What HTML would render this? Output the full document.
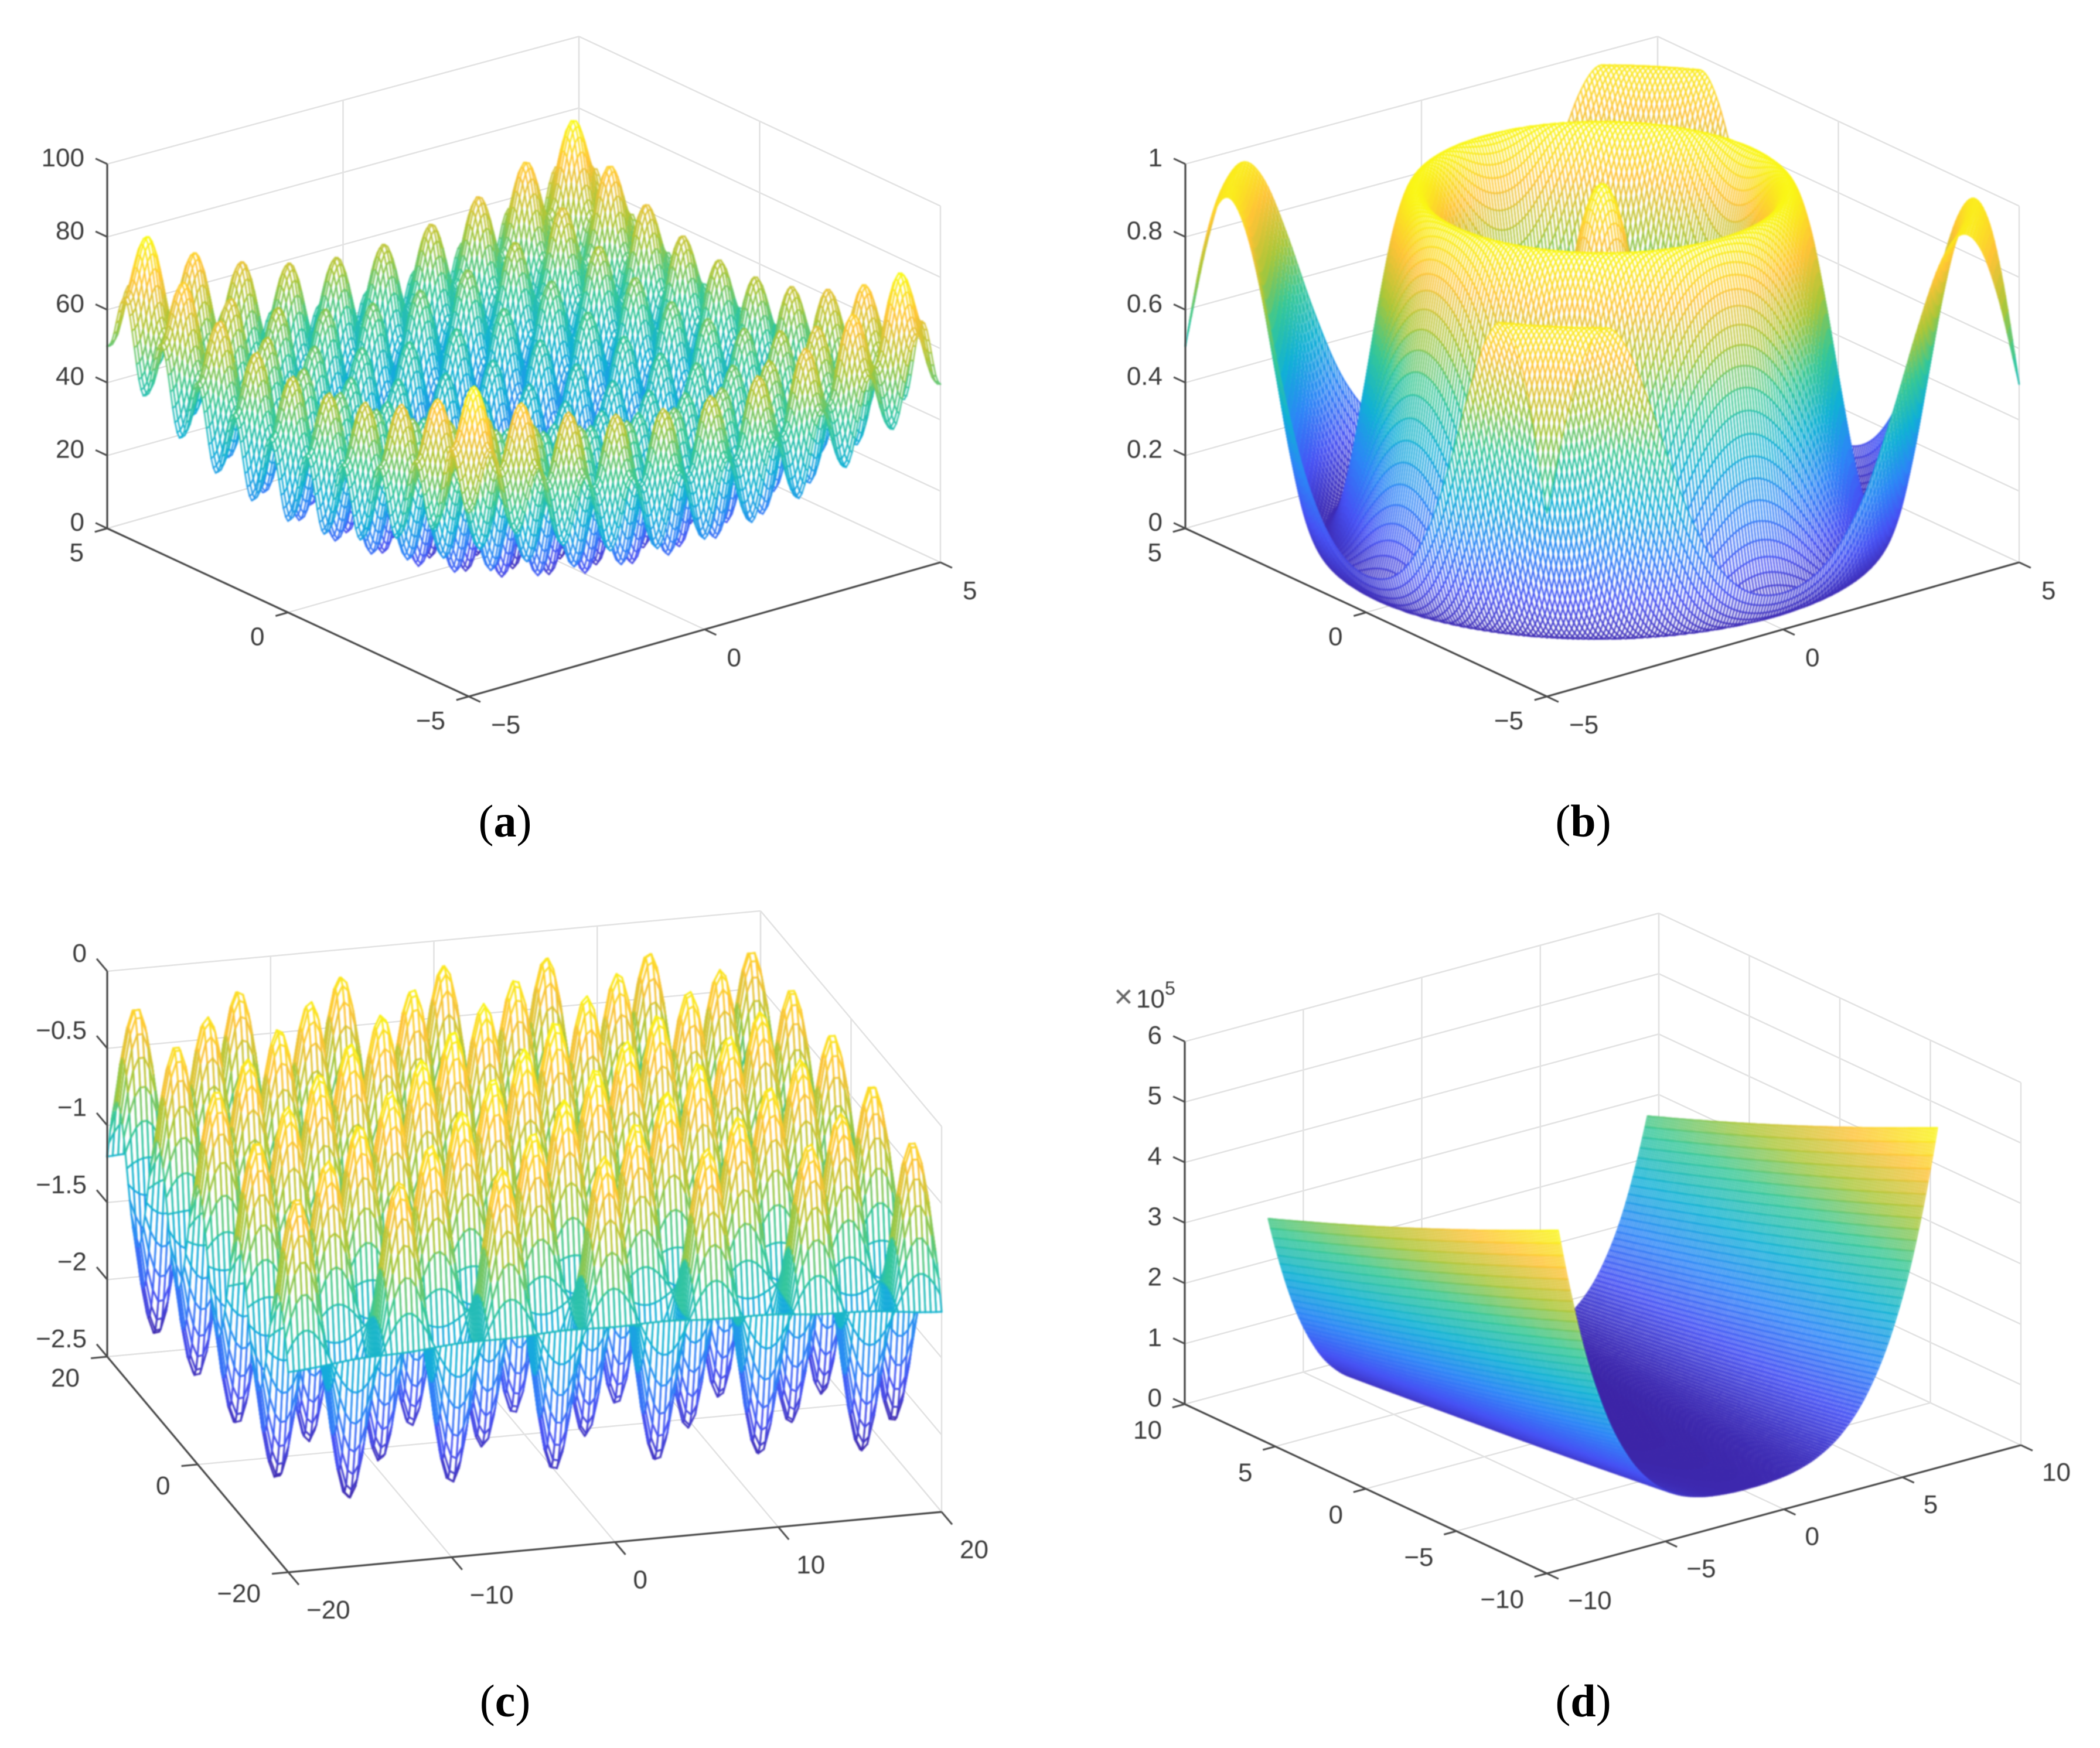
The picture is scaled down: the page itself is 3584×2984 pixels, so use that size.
<!DOCTYPE html>
<html lang="en">
<head>
<meta charset="utf-8">
<title>Surface plots of four benchmark functions</title>
<style>
html,body{margin:0;padding:0;background:#fff;}
#page{position:relative;width:3584px;height:2984px;overflow:hidden;background:#fff;font-family:"Liberation Sans",sans-serif;}
svg,canvas{position:absolute;display:block;}
#grid-layer,#axes-layer,#caption-layer{left:0;top:0;}
#axes-layer{filter:blur(0.7px);}
canvas{filter:blur(1px);}
.tick-text{font-family:"Liberation Sans",sans-serif;font-size:44px;fill:#3c3c3c;}
.caption{font-family:"Liberation Serif",serif;font-size:78px;fill:#000;}
</style>
</head>
<body>
<div id="page">
<svg id="grid-layer" width="3584" height="2984"></svg>
<canvas id="mesh-a" width="1792" height="1492" style="left:0;top:0"></canvas>
<canvas id="mesh-b" width="1792" height="1492" style="left:1792px;top:0"></canvas>
<canvas id="mesh-c" width="1792" height="1492" style="left:0;top:1492px"></canvas>
<canvas id="mesh-d" width="1792" height="1492" style="left:1792px;top:1492px"></canvas>
<svg id="axes-layer" width="3584" height="2984"></svg>
<svg id="caption-layer" width="3584" height="2984">
<text class="caption" x="862" y="1428" text-anchor="middle">(<tspan font-weight="bold">a</tspan>)</text>
<text class="caption" x="2702" y="1428" text-anchor="middle">(<tspan font-weight="bold">b</tspan>)</text>
<text class="caption" x="862" y="2930" text-anchor="middle">(<tspan font-weight="bold">c</tspan>)</text>
<text class="caption" x="2702" y="2930" text-anchor="middle">(<tspan font-weight="bold">d</tspan>)</text>
</svg>
</div>
<script>
// ---- Surface height samples (panel a): per-axis profile at |x| = 0, 0.125, ... 5
const ridgeProfileA = [0,2.945,10.063,17.212,20.25,17.462,10.563,3.695,1,4.195,11.563,18.962,22.25,19.712,13.063,6.445,4,7.445,15.063,22.712,26.25,23.962,17.563,11.195,9,12.695,20.563,28.462,32.25,30.212,24.063,17.945,16,19.945,28.063,36.212,40.25,38.462,32.563,26.695,25];
// ---- panel b: radial profile at r = 0, 0.25, ... 7.25
const radialProfileB = [1,.9387,.77,.5354,.2924,.1007,.0072,.0346,.1758,.3957,.6401,.8491,.9716,.9781,.8679,.6685,.4295,.2096,.0624,.0232,.1007,.2748,.5021,.7264,.8931,.9621,.9177,.7721,.5621,.3398];
// ---- panel c: wave along |x|, wave along |y| (both at 0, 0.5, ... 20), bowl term at 0, 5, ... 20
const waveXC = [1,.8776,.5403,.0707,-.4161,-.8011,-.99,-.9365,-.6536,-.2108,.2837,.7087,.9602,.9766,.7539,.3466,-.1455,-.602,-.9111,-.9972,-.8391,-.4755,.0044,.4833,.8439,.9978,.9074,.5949,.1367,-.3549,-.7597,-.9785,-.9577,-.7001,-.2752,.2194,.6603,.9454,.9887,.7958,.4081];
const waveYC = [1,.9381,.7602,.4872,.1559,-.1955,-.5227,-.7857,-.951,-.9992,-.9232,-.7333,-.454,-.116,.2351,.5566,.8101,.963,.9967,.9072,.7053,.4169,.0757,-.2742,-.5904,-.8327,-.9732,-.9927,-.8894,-.6763,-.38,-.0354,.3122,.6223,.8548,.9816,.987,.8702,.6459,.3414,-.0049];
const bowlC = [0,.00625,.025,.05625,.1];
// ---- panel d: height at y=0 for x=-8..8, slope in y for |x|=0..8, y-term for y=-8,-4,0,4,8
const valleyD = [409681,240164,129649,62536,25625,8116,1609,104,1,100,1601,8104,25609,62516,129625,240136,409649];
const slopeD = [0,-200,-800,-1800,-3200,-5000,-7200,-9800,-12800];
const curveD = [6400,1600,0,1600,6400];
// ---- Tick values
const ticksXA = [-5,0,5];
const ticksYA = [-5,0,5];
const ticksZA = [0,20,40,60,80,100];
const ticksXB = [-5,0,5];
const ticksYB = [-5,0,5];
const ticksZB = [0,0.2,0.4,0.6,0.8,1];
const ticksXC = [-20,-10,0,10,20];
const ticksYC = [-20,0,20];
const ticksZC = [-2.5,-2,-1.5,-1,-0.5,0];
const ticksXD = [-10,-5,0,5,10];
const ticksYD = [-10,-5,0,5,10];
const ticksZD = [0,1,2,3,4,5,6];
// ---- parula colormap stops
const parulaStops = [[.2422,.1504,.6603],[.281,.3228,.9579],[.1786,.5289,.9682],[.0689,.6948,.8394],[.2161,.7843,.5923],[.672,.7793,.2227],[.997,.7659,.2199],[.9769,.9839,.0805]];

function spline(arr,start,step,t,mirror){
  var n=arr.length,f=(t-start)/step,i=Math.floor(f);
  if(i<0)i=0; if(i>n-2)i=n-2;
  var u=f-i,p1=arr[i],p2=arr[i+1];
  var p0=i>0?arr[i-1]:(mirror?arr[1]:3*arr[0]-3*arr[1]+arr[2]);
  var p3=i<n-2?arr[i+2]:3*arr[n-1]-3*arr[n-2]+arr[n-3];
  return p1+.5*u*(p2-p0+u*(2*p0-5*p1+4*p2-p3+u*(3*(p1-p2)+p3-p0)));
}
var palette=[];
(function(){
  for(var k=0;k<256;k++){
    var f=k/255*(parulaStops.length-1),i=Math.min(Math.floor(f),parulaStops.length-2),u=f-i,c=[0,1,2].map(function(d){return Math.round(255*(parulaStops[i][d]*(1-u)+parulaStops[i+1][d]*u));});
    palette.push('rgb('+c.join(',')+')');
  }
})();

const panelA={id:'a',canvas:'mesh-a',ox:0,oy:0,L:[183,902],F:[800,1189],R:[1605,960],H:622,tick:22,hk:[.008,-.03,.012],
  xr:[-5,5],yr:[-5,5],zr:[0,100],dom:[-5,5],step:.0625,lw:2.5,
  tx:ticksXA,ty:ticksYA,tz:ticksZA,zOff:[-39,-12],yOff:[-40,40],xOff:[38,47],
  f:function(x,y){return spline(ridgeProfileA,0,.125,Math.abs(x),true)+spline(ridgeProfileA,0,.125,Math.abs(y),true);}};
const panelB={id:'b',canvas:'mesh-b',ox:1792,oy:0,L:[2023,902],F:[2640,1189],R:[3446,960],H:622,tick:22,hk:[.008,-.03,.012],
  xr:[-5,5],yr:[-5,5],zr:[0,1],dom:[-5,5],step:.0625,lw:2.4,
  tx:ticksXB,ty:ticksYB,tz:ticksZB,zOff:[-39,-12],yOff:[-40,40],xOff:[38,47],
  f:function(x,y){return spline(radialProfileB,0,.25,Math.sqrt(x*x+y*y),true);}};
const panelC={id:'c',canvas:'mesh-c',ox:0,oy:1492,L:[183,2316],F:[492,2684],R:[1607,2581],H:658,tick:28,
  xr:[-20,20],yr:[-20,20],zr:[-2.5,0],dom:[-20,20],step:1/3,lw:3,
  tx:ticksXC,ty:ticksYC,tz:ticksZC,zOff:[-35,-32],yOff:[-47,35],xOff:[31,63],
  f:function(x,y){var a=Math.abs(x),b=Math.abs(y);return -1-spline(bowlC,0,5,a,true)-spline(bowlC,0,5,b,true)+spline(waveXC,0,.5,a,true)*spline(waveYC,0,.5,b,true);}};
const panelD={id:'d',canvas:'mesh-d',ox:1792,oy:1492,L:[2022,2397],F:[2640,2686],R:[3449,2467],H:619,tick:22,
  xr:[-10,10],yr:[-10,10],zr:[0,6],zScale:1e5,dom:[-8,8],step:.1,lw:2.3,
  tx:ticksXD,ty:ticksYD,tz:ticksZD,zOff:[-39,-12],yOff:[-39,43],xOff:[36,45],
  f:function(x,y){return spline(valleyD,-8,1,x,false)+spline(slopeD,0,1,Math.abs(x),true)*y+spline(curveD,-8,4,y,false);}};
const panels=[panelA,panelB,panelC,panelD];

function project(p,x,y,z){
  var u=(x-p.xr[0])/(p.xr[1]-p.xr[0]),v=(y-p.yr[0])/(p.yr[1]-p.yr[0]),w=(z-p.zr[0])/(p.zr[1]-p.zr[0]);
  var hf=p.hk?1+p.hk[0]*(1-v)+p.hk[1]*u+p.hk[2]*u*v:1;
  return [p.F[0]+u*(p.R[0]-p.F[0])+v*(p.L[0]-p.F[0]),p.F[1]+u*(p.R[1]-p.F[1])+v*(p.L[1]-p.F[1])-w*p.H*hf];
}
var NS='http://www.w3.org/2000/svg';
function addLine(parent,a,b,color,width,name){
  var el=document.createElementNS(NS,'line');
  el.setAttribute('x1',a[0].toFixed(1));
  el.setAttribute('y1',a[1].toFixed(1));
  el.setAttribute('x2',b[0].toFixed(1));
  el.setAttribute('y2',b[1].toFixed(1));
  el.setAttribute('stroke',color);
  el.setAttribute('stroke-width',width);
  
  
  parent.appendChild(el);
}
function fmt(v){return String(v).replace('-','\u2212');}
function addLabel(parent,pt,off,str,anchor,name){
  var el=document.createElementNS(NS,'text');
  el.setAttribute('class','tick-text');
  el.setAttribute('x',(pt[0]+off[0]).toFixed(1));
  el.setAttribute('y',(pt[1]+off[1]+16).toFixed(1));
  el.setAttribute('text-anchor',anchor);
  
  
  el.textContent=str;
  parent.appendChild(el);
}
function drawFrame(p){
  var gridSvg=document.getElementById('grid-layer'),axesSvg=document.getElementById('axes-layer');
  var GC='#e3e3e3',AC='#4a4a4a',x0=p.xr[0],x1=p.xr[1],y0=p.yr[0],y1=p.yr[1],z0=p.zr[0],z1=p.zr[1];
  p.tx.forEach(function(t){
    addLine(gridSvg,project(p,t,y0,z0),project(p,t,y1,z0),GC,2.6,'floor-grid-x');
    addLine(gridSvg,project(p,t,y1,z0),project(p,t,y1,z1),GC,2.6,'wall-grid-x');
  });
  p.ty.forEach(function(t){
    addLine(gridSvg,project(p,x0,t,z0),project(p,x1,t,z0),GC,2.6,'floor-grid-y');
    addLine(gridSvg,project(p,x1,t,z0),project(p,x1,t,z1),GC,2.6,'wall-grid-y');
  });
  p.tz.forEach(function(t){
    addLine(gridSvg,project(p,x0,y1,t),project(p,x1,y1,t),GC,2.6,'wall-grid-z');
    addLine(gridSvg,project(p,x1,y1,t),project(p,x1,y0,t),GC,2.6,'wall-grid-z');
  });
  var L=p.L,F=p.F,R=p.R;
  var ly=Math.hypot(L[0]-F[0],L[1]-F[1]),lx=Math.hypot(R[0]-F[0],R[1]-F[1]);
  var uy=[(L[0]-F[0])/ly*p.tick,(L[1]-F[1])/ly*p.tick],ux=[(R[0]-F[0])/lx*p.tick,(R[1]-F[1])/lx*p.tick];
  addLine(axesSvg,project(p,x0,y1,z0),project(p,x0,y1,z1),AC,3.2,'z-axis-line-'+p.id);
  addLine(axesSvg,project(p,x0,y1,z0),project(p,x0,y0,z0),AC,3.2,'y-axis-line-'+p.id);
  addLine(axesSvg,project(p,x0,y0,z0),project(p,x1,y0,z0),AC,3.2,'x-axis-line-'+p.id);
  p.tz.forEach(function(t){
    var q=project(p,x0,y1,t);
    addLine(axesSvg,q,[q[0]+uy[0],q[1]+uy[1]],AC,3,'z-tick-'+p.id);
    addLabel(axesSvg,q,p.zOff,fmt(t),'end','z-tick-label-'+p.id);
  });
  p.ty.forEach(function(t){
    var q=project(p,x0,t,z0);
    addLine(axesSvg,q,[q[0]-ux[0],q[1]-ux[1]],AC,3,'y-tick-'+p.id);
    addLabel(axesSvg,q,p.yOff,fmt(t),'end','y-tick-label-'+p.id);
  });
  p.tx.forEach(function(t){
    var q=project(p,t,y0,z0);
    addLine(axesSvg,q,[q[0]-uy[0],q[1]-uy[1]],AC,3,'x-tick-'+p.id);
    addLabel(axesSvg,q,p.xOff,fmt(t),'start','x-tick-label-'+p.id);
  });
}
function drawMesh(p){
  var cv=document.getElementById(p.canvas),ctx=cv.getContext('2d');
  var n=Math.round((p.dom[1]-p.dom[0])/p.step)+1,sc=p.zScale||1;
  var Z=[],SX=[],SY=[],mn=Infinity,mx=-Infinity,i,j;
  for(j=0;j<n;j++){
    var y=p.dom[0]+(p.dom[1]-p.dom[0])*j/(n-1),rz=new Float64Array(n),rx=new Float64Array(n),ry=new Float64Array(n);
    for(i=0;i<n;i++){
      var x=p.dom[0]+(p.dom[1]-p.dom[0])*i/(n-1),z=p.f(x,y),q=project(p,x,y,z/sc);
      rz[i]=z;rx[i]=q[0]-p.ox;ry[i]=q[1]-p.oy;
      if(z<mn)mn=z; if(z>mx)mx=z;
    }
    Z.push(rz);SX.push(rx);SY.push(ry);
  }
  function col(a,b){var k=Math.round(((a+b)/2-mn)/(mx-mn)*255);return palette[k<0?0:k>255?255:k];}
  function edge(x1,y1,x2,y2,c){ctx.strokeStyle=c;ctx.beginPath();ctx.moveTo(x1,y1);ctx.lineTo(x2,y2);ctx.stroke();}
  ctx.lineWidth=p.lw;ctx.lineCap='round';ctx.fillStyle='#fff';
  for(j=n-2;j>=0;j--){
    var ax=SX[j],ay=SY[j],bx=SX[j+1],by=SY[j+1],az=Z[j],bz=Z[j+1];
    for(i=n-2;i>=0;i--){
      ctx.beginPath();
      ctx.moveTo(ax[i],ay[i]);ctx.lineTo(ax[i+1],ay[i+1]);ctx.lineTo(bx[i+1],by[i+1]);ctx.lineTo(bx[i],by[i]);ctx.closePath();
      ctx.fill();
      edge(bx[i],by[i],bx[i+1],by[i+1],col(bz[i],bz[i+1]));
      edge(ax[i+1],ay[i+1],bx[i+1],by[i+1],col(az[i+1],bz[i+1]));
      edge(ax[i],ay[i],bx[i],by[i],col(az[i],bz[i]));
      edge(ax[i],ay[i],ax[i+1],ay[i+1],col(az[i],az[i+1]));
    }
  }
}
panels.forEach(function(p){drawFrame(p);drawMesh(p);});
(function(){
  var axesSvg=document.getElementById('axes-layer');
  var t=document.createElementNS(NS,'text');
  t.setAttribute('class','tick-text');
  t.setAttribute('y','1720');
  
  
  var a=document.createElementNS(NS,'tspan');
  a.setAttribute('x','1901');
  a.setAttribute('font-size','56');
  a.setAttribute('fill','#666');
  a.textContent='\u00d7';
  t.appendChild(a);
  var b=document.createElementNS(NS,'tspan');
  b.setAttribute('x','1939');
  b.textContent='10';
  t.appendChild(b);
  var c=document.createElementNS(NS,'tspan');
  c.setAttribute('x','1988');
  c.setAttribute('font-size','32');
  c.setAttribute('dy','-22');
  c.textContent='5';
  t.appendChild(c);
  axesSvg.appendChild(t);
})();
</script>
</body>
</html>
